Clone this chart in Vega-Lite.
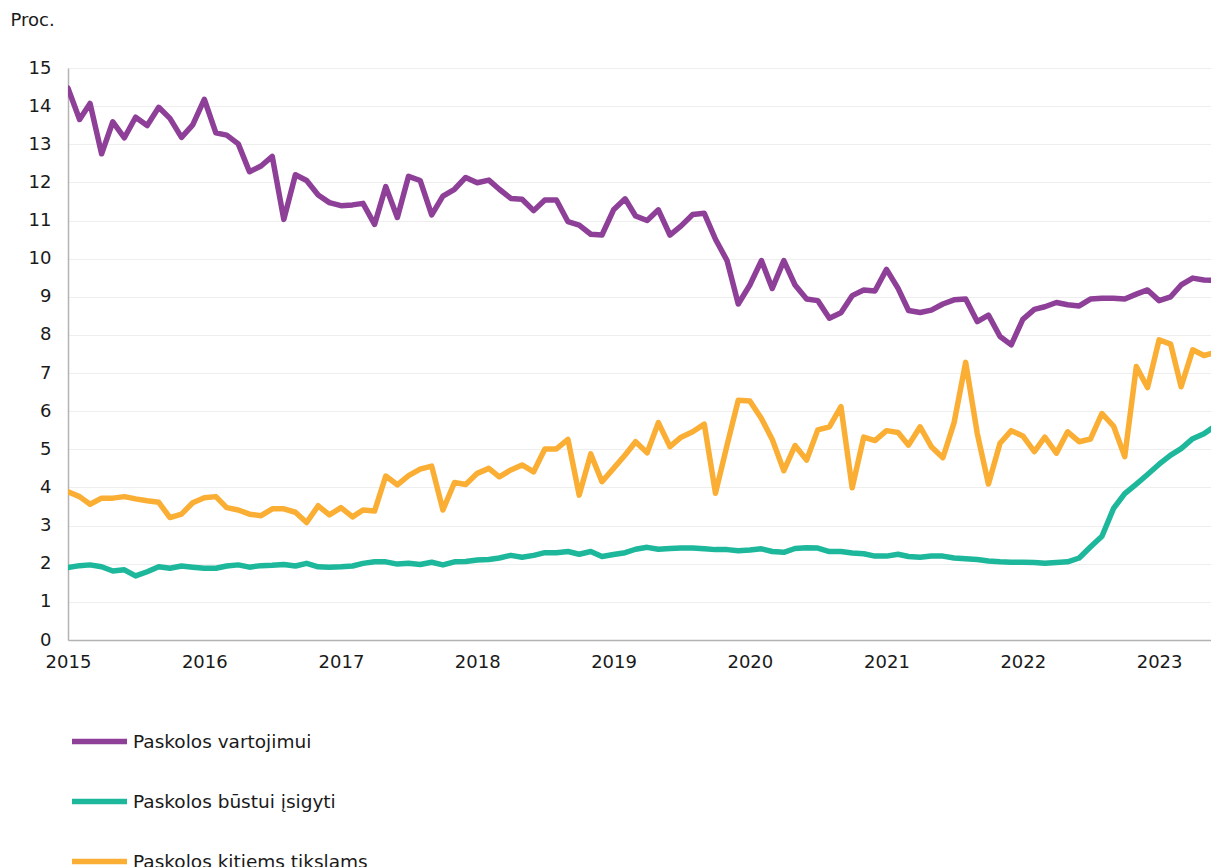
{
  "$schema": "https://vega.github.io/schema/vega-lite/v6.json",
  "width": 1143,
  "height": 572,
  "autosize": {"type": "none"},
  "padding": {"left": 68, "top": 68, "right": 0, "bottom": 227},
  "background": "white",
  "config": {"font": "DejaVu Sans", "view": {"stroke": null}},
  "data": {"values": [
    {"d":"2015-01-01","s":"Paskolos vartojimui","v":14.47},{"d":"2015-02-01","s":"Paskolos vartojimui","v":13.65},{"d":"2015-03-01","s":"Paskolos vartojimui","v":14.07},{"d":"2015-04-01","s":"Paskolos vartojimui","v":12.75},{"d":"2015-05-01","s":"Paskolos vartojimui","v":13.59},{"d":"2015-06-01","s":"Paskolos vartojimui","v":13.17},{"d":"2015-07-01","s":"Paskolos vartojimui","v":13.71},{"d":"2015-08-01","s":"Paskolos vartojimui","v":13.49},{"d":"2015-09-01","s":"Paskolos vartojimui","v":13.97},{"d":"2015-10-01","s":"Paskolos vartojimui","v":13.68},{"d":"2015-11-01","s":"Paskolos vartojimui","v":13.18},{"d":"2015-12-01","s":"Paskolos vartojimui","v":13.51},
    {"d":"2016-01-01","s":"Paskolos vartojimui","v":14.18},{"d":"2016-02-01","s":"Paskolos vartojimui","v":13.30},{"d":"2016-03-01","s":"Paskolos vartojimui","v":13.24},{"d":"2016-04-01","s":"Paskolos vartojimui","v":13.01},{"d":"2016-05-01","s":"Paskolos vartojimui","v":12.28},{"d":"2016-06-01","s":"Paskolos vartojimui","v":12.43},{"d":"2016-07-01","s":"Paskolos vartojimui","v":12.68},{"d":"2016-08-01","s":"Paskolos vartojimui","v":11.03},{"d":"2016-09-01","s":"Paskolos vartojimui","v":12.20},{"d":"2016-10-01","s":"Paskolos vartojimui","v":12.05},{"d":"2016-11-01","s":"Paskolos vartojimui","v":11.67},{"d":"2016-12-01","s":"Paskolos vartojimui","v":11.47},
    {"d":"2017-01-01","s":"Paskolos vartojimui","v":11.39},{"d":"2017-02-01","s":"Paskolos vartojimui","v":11.41},{"d":"2017-03-01","s":"Paskolos vartojimui","v":11.45},{"d":"2017-04-01","s":"Paskolos vartojimui","v":10.90},{"d":"2017-05-01","s":"Paskolos vartojimui","v":11.89},{"d":"2017-06-01","s":"Paskolos vartojimui","v":11.08},{"d":"2017-07-01","s":"Paskolos vartojimui","v":12.16},{"d":"2017-08-01","s":"Paskolos vartojimui","v":12.05},{"d":"2017-09-01","s":"Paskolos vartojimui","v":11.15},{"d":"2017-10-01","s":"Paskolos vartojimui","v":11.64},{"d":"2017-11-01","s":"Paskolos vartojimui","v":11.82},{"d":"2017-12-01","s":"Paskolos vartojimui","v":12.13},
    {"d":"2018-01-01","s":"Paskolos vartojimui","v":11.99},{"d":"2018-02-01","s":"Paskolos vartojimui","v":12.06},{"d":"2018-03-01","s":"Paskolos vartojimui","v":11.82},{"d":"2018-04-01","s":"Paskolos vartojimui","v":11.58},{"d":"2018-05-01","s":"Paskolos vartojimui","v":11.56},{"d":"2018-06-01","s":"Paskolos vartojimui","v":11.26},{"d":"2018-07-01","s":"Paskolos vartojimui","v":11.54},{"d":"2018-08-01","s":"Paskolos vartojimui","v":11.54},{"d":"2018-09-01","s":"Paskolos vartojimui","v":10.97},{"d":"2018-10-01","s":"Paskolos vartojimui","v":10.88},{"d":"2018-11-01","s":"Paskolos vartojimui","v":10.64},{"d":"2018-12-01","s":"Paskolos vartojimui","v":10.62},
    {"d":"2019-01-01","s":"Paskolos vartojimui","v":11.28},{"d":"2019-02-01","s":"Paskolos vartojimui","v":11.57},{"d":"2019-03-01","s":"Paskolos vartojimui","v":11.12},{"d":"2019-04-01","s":"Paskolos vartojimui","v":11.00},{"d":"2019-05-01","s":"Paskolos vartojimui","v":11.28},{"d":"2019-06-01","s":"Paskolos vartojimui","v":10.62},{"d":"2019-07-01","s":"Paskolos vartojimui","v":10.86},{"d":"2019-08-01","s":"Paskolos vartojimui","v":11.16},{"d":"2019-09-01","s":"Paskolos vartojimui","v":11.19},{"d":"2019-10-01","s":"Paskolos vartojimui","v":10.51},{"d":"2019-11-01","s":"Paskolos vartojimui","v":9.95},{"d":"2019-12-01","s":"Paskolos vartojimui","v":8.81},
    {"d":"2020-01-01","s":"Paskolos vartojimui","v":9.31},{"d":"2020-02-01","s":"Paskolos vartojimui","v":9.95},{"d":"2020-03-01","s":"Paskolos vartojimui","v":9.22},{"d":"2020-04-01","s":"Paskolos vartojimui","v":9.95},{"d":"2020-05-01","s":"Paskolos vartojimui","v":9.31},{"d":"2020-06-01","s":"Paskolos vartojimui","v":8.94},{"d":"2020-07-01","s":"Paskolos vartojimui","v":8.90},{"d":"2020-08-01","s":"Paskolos vartojimui","v":8.44},{"d":"2020-09-01","s":"Paskolos vartojimui","v":8.58},{"d":"2020-10-01","s":"Paskolos vartojimui","v":9.03},{"d":"2020-11-01","s":"Paskolos vartojimui","v":9.18},{"d":"2020-12-01","s":"Paskolos vartojimui","v":9.15},
    {"d":"2021-01-01","s":"Paskolos vartojimui","v":9.72},{"d":"2021-02-01","s":"Paskolos vartojimui","v":9.22},{"d":"2021-03-01","s":"Paskolos vartojimui","v":8.64},{"d":"2021-04-01","s":"Paskolos vartojimui","v":8.59},{"d":"2021-05-01","s":"Paskolos vartojimui","v":8.65},{"d":"2021-06-01","s":"Paskolos vartojimui","v":8.81},{"d":"2021-07-01","s":"Paskolos vartojimui","v":8.92},{"d":"2021-08-01","s":"Paskolos vartojimui","v":8.94},{"d":"2021-09-01","s":"Paskolos vartojimui","v":8.35},{"d":"2021-10-01","s":"Paskolos vartojimui","v":8.52},{"d":"2021-11-01","s":"Paskolos vartojimui","v":7.96},{"d":"2021-12-01","s":"Paskolos vartojimui","v":7.74},
    {"d":"2022-01-01","s":"Paskolos vartojimui","v":8.41},{"d":"2022-02-01","s":"Paskolos vartojimui","v":8.67},{"d":"2022-03-01","s":"Paskolos vartojimui","v":8.74},{"d":"2022-04-01","s":"Paskolos vartojimui","v":8.85},{"d":"2022-05-01","s":"Paskolos vartojimui","v":8.79},{"d":"2022-06-01","s":"Paskolos vartojimui","v":8.76},{"d":"2022-07-01","s":"Paskolos vartojimui","v":8.94},{"d":"2022-08-01","s":"Paskolos vartojimui","v":8.96},{"d":"2022-09-01","s":"Paskolos vartojimui","v":8.96},{"d":"2022-10-01","s":"Paskolos vartojimui","v":8.94},{"d":"2022-11-01","s":"Paskolos vartojimui","v":9.07},{"d":"2022-12-01","s":"Paskolos vartojimui","v":9.18},
    {"d":"2023-01-01","s":"Paskolos vartojimui","v":8.90},{"d":"2023-02-01","s":"Paskolos vartojimui","v":9.00},{"d":"2023-03-01","s":"Paskolos vartojimui","v":9.31},{"d":"2023-04-01","s":"Paskolos vartojimui","v":9.49},{"d":"2023-05-01","s":"Paskolos vartojimui","v":9.44},{"d":"2023-06-01","s":"Paskolos vartojimui","v":9.43},

    {"d":"2015-01-01","s":"Paskolos būstui įsigyti","v":1.90},{"d":"2015-02-01","s":"Paskolos būstui įsigyti","v":1.95},{"d":"2015-03-01","s":"Paskolos būstui įsigyti","v":1.97},{"d":"2015-04-01","s":"Paskolos būstui įsigyti","v":1.92},{"d":"2015-05-01","s":"Paskolos būstui įsigyti","v":1.81},{"d":"2015-06-01","s":"Paskolos būstui įsigyti","v":1.84},{"d":"2015-07-01","s":"Paskolos būstui įsigyti","v":1.68},{"d":"2015-08-01","s":"Paskolos būstui įsigyti","v":1.79},{"d":"2015-09-01","s":"Paskolos būstui įsigyti","v":1.92},{"d":"2015-10-01","s":"Paskolos būstui įsigyti","v":1.88},{"d":"2015-11-01","s":"Paskolos būstui įsigyti","v":1.94},{"d":"2015-12-01","s":"Paskolos būstui įsigyti","v":1.91},
    {"d":"2016-01-01","s":"Paskolos būstui įsigyti","v":1.88},{"d":"2016-02-01","s":"Paskolos būstui įsigyti","v":1.88},{"d":"2016-03-01","s":"Paskolos būstui įsigyti","v":1.94},{"d":"2016-04-01","s":"Paskolos būstui įsigyti","v":1.97},{"d":"2016-05-01","s":"Paskolos būstui įsigyti","v":1.91},{"d":"2016-06-01","s":"Paskolos būstui įsigyti","v":1.95},{"d":"2016-07-01","s":"Paskolos būstui įsigyti","v":1.96},{"d":"2016-08-01","s":"Paskolos būstui įsigyti","v":1.98},{"d":"2016-09-01","s":"Paskolos būstui įsigyti","v":1.94},{"d":"2016-10-01","s":"Paskolos būstui įsigyti","v":2.01},{"d":"2016-11-01","s":"Paskolos būstui įsigyti","v":1.92},{"d":"2016-12-01","s":"Paskolos būstui įsigyti","v":1.91},
    {"d":"2017-01-01","s":"Paskolos būstui įsigyti","v":1.92},{"d":"2017-02-01","s":"Paskolos būstui įsigyti","v":1.94},{"d":"2017-03-01","s":"Paskolos būstui įsigyti","v":2.01},{"d":"2017-04-01","s":"Paskolos būstui įsigyti","v":2.05},{"d":"2017-05-01","s":"Paskolos būstui įsigyti","v":2.05},{"d":"2017-06-01","s":"Paskolos būstui įsigyti","v":1.99},{"d":"2017-07-01","s":"Paskolos būstui įsigyti","v":2.01},{"d":"2017-08-01","s":"Paskolos būstui įsigyti","v":1.98},{"d":"2017-09-01","s":"Paskolos būstui įsigyti","v":2.04},{"d":"2017-10-01","s":"Paskolos būstui įsigyti","v":1.97},{"d":"2017-11-01","s":"Paskolos būstui įsigyti","v":2.05},{"d":"2017-12-01","s":"Paskolos būstui įsigyti","v":2.06},
    {"d":"2018-01-01","s":"Paskolos būstui įsigyti","v":2.10},{"d":"2018-02-01","s":"Paskolos būstui įsigyti","v":2.11},{"d":"2018-03-01","s":"Paskolos būstui įsigyti","v":2.15},{"d":"2018-04-01","s":"Paskolos būstui įsigyti","v":2.22},{"d":"2018-05-01","s":"Paskolos būstui įsigyti","v":2.17},{"d":"2018-06-01","s":"Paskolos būstui įsigyti","v":2.22},{"d":"2018-07-01","s":"Paskolos būstui įsigyti","v":2.29},{"d":"2018-08-01","s":"Paskolos būstui įsigyti","v":2.29},{"d":"2018-09-01","s":"Paskolos būstui įsigyti","v":2.32},{"d":"2018-10-01","s":"Paskolos būstui įsigyti","v":2.25},{"d":"2018-11-01","s":"Paskolos būstui įsigyti","v":2.32},{"d":"2018-12-01","s":"Paskolos būstui įsigyti","v":2.19},
    {"d":"2019-01-01","s":"Paskolos būstui įsigyti","v":2.24},{"d":"2019-02-01","s":"Paskolos būstui įsigyti","v":2.29},{"d":"2019-03-01","s":"Paskolos būstui įsigyti","v":2.38},{"d":"2019-04-01","s":"Paskolos būstui įsigyti","v":2.43},{"d":"2019-05-01","s":"Paskolos būstui įsigyti","v":2.38},{"d":"2019-06-01","s":"Paskolos būstui įsigyti","v":2.40},{"d":"2019-07-01","s":"Paskolos būstui įsigyti","v":2.41},{"d":"2019-08-01","s":"Paskolos būstui įsigyti","v":2.41},{"d":"2019-09-01","s":"Paskolos būstui įsigyti","v":2.39},{"d":"2019-10-01","s":"Paskolos būstui įsigyti","v":2.37},{"d":"2019-11-01","s":"Paskolos būstui įsigyti","v":2.37},{"d":"2019-12-01","s":"Paskolos būstui įsigyti","v":2.34},
    {"d":"2020-01-01","s":"Paskolos būstui įsigyti","v":2.36},{"d":"2020-02-01","s":"Paskolos būstui įsigyti","v":2.39},{"d":"2020-03-01","s":"Paskolos būstui įsigyti","v":2.32},{"d":"2020-04-01","s":"Paskolos būstui įsigyti","v":2.30},{"d":"2020-05-01","s":"Paskolos būstui įsigyti","v":2.40},{"d":"2020-06-01","s":"Paskolos būstui įsigyti","v":2.42},{"d":"2020-07-01","s":"Paskolos būstui įsigyti","v":2.41},{"d":"2020-08-01","s":"Paskolos būstui įsigyti","v":2.32},{"d":"2020-09-01","s":"Paskolos būstui įsigyti","v":2.32},{"d":"2020-10-01","s":"Paskolos būstui įsigyti","v":2.28},{"d":"2020-11-01","s":"Paskolos būstui įsigyti","v":2.26},{"d":"2020-12-01","s":"Paskolos būstui įsigyti","v":2.20},
    {"d":"2021-01-01","s":"Paskolos būstui įsigyti","v":2.20},{"d":"2021-02-01","s":"Paskolos būstui įsigyti","v":2.25},{"d":"2021-03-01","s":"Paskolos būstui įsigyti","v":2.19},{"d":"2021-04-01","s":"Paskolos būstui įsigyti","v":2.17},{"d":"2021-05-01","s":"Paskolos būstui įsigyti","v":2.20},{"d":"2021-06-01","s":"Paskolos būstui įsigyti","v":2.20},{"d":"2021-07-01","s":"Paskolos būstui įsigyti","v":2.15},{"d":"2021-08-01","s":"Paskolos būstui įsigyti","v":2.13},{"d":"2021-09-01","s":"Paskolos būstui įsigyti","v":2.11},{"d":"2021-10-01","s":"Paskolos būstui įsigyti","v":2.07},{"d":"2021-11-01","s":"Paskolos būstui įsigyti","v":2.05},{"d":"2021-12-01","s":"Paskolos būstui įsigyti","v":2.04},
    {"d":"2022-01-01","s":"Paskolos būstui įsigyti","v":2.04},{"d":"2022-02-01","s":"Paskolos būstui įsigyti","v":2.03},{"d":"2022-03-01","s":"Paskolos būstui įsigyti","v":2.01},{"d":"2022-04-01","s":"Paskolos būstui įsigyti","v":2.03},{"d":"2022-05-01","s":"Paskolos būstui įsigyti","v":2.05},{"d":"2022-06-01","s":"Paskolos būstui įsigyti","v":2.15},{"d":"2022-07-01","s":"Paskolos būstui įsigyti","v":2.44},{"d":"2022-08-01","s":"Paskolos būstui įsigyti","v":2.72},{"d":"2022-09-01","s":"Paskolos būstui įsigyti","v":3.45},{"d":"2022-10-01","s":"Paskolos būstui įsigyti","v":3.84},{"d":"2022-11-01","s":"Paskolos būstui įsigyti","v":4.09},{"d":"2022-12-01","s":"Paskolos būstui įsigyti","v":4.34},
    {"d":"2023-01-01","s":"Paskolos būstui įsigyti","v":4.61},{"d":"2023-02-01","s":"Paskolos būstui įsigyti","v":4.85},{"d":"2023-03-01","s":"Paskolos būstui įsigyti","v":5.02},{"d":"2023-04-01","s":"Paskolos būstui įsigyti","v":5.28},{"d":"2023-05-01","s":"Paskolos būstui įsigyti","v":5.41},{"d":"2023-06-01","s":"Paskolos būstui įsigyti","v":5.62},

    {"d":"2015-01-01","s":"Paskolos kitiems tikslams","v":3.89},{"d":"2015-02-01","s":"Paskolos kitiems tikslams","v":3.76},{"d":"2015-03-01","s":"Paskolos kitiems tikslams","v":3.56},{"d":"2015-04-01","s":"Paskolos kitiems tikslams","v":3.72},{"d":"2015-05-01","s":"Paskolos kitiems tikslams","v":3.72},{"d":"2015-06-01","s":"Paskolos kitiems tikslams","v":3.76},{"d":"2015-07-01","s":"Paskolos kitiems tikslams","v":3.70},{"d":"2015-08-01","s":"Paskolos kitiems tikslams","v":3.65},{"d":"2015-09-01","s":"Paskolos kitiems tikslams","v":3.61},{"d":"2015-10-01","s":"Paskolos kitiems tikslams","v":3.21},{"d":"2015-11-01","s":"Paskolos kitiems tikslams","v":3.30},{"d":"2015-12-01","s":"Paskolos kitiems tikslams","v":3.60},
    {"d":"2016-01-01","s":"Paskolos kitiems tikslams","v":3.73},{"d":"2016-02-01","s":"Paskolos kitiems tikslams","v":3.76},{"d":"2016-03-01","s":"Paskolos kitiems tikslams","v":3.47},{"d":"2016-04-01","s":"Paskolos kitiems tikslams","v":3.41},{"d":"2016-05-01","s":"Paskolos kitiems tikslams","v":3.30},{"d":"2016-06-01","s":"Paskolos kitiems tikslams","v":3.26},{"d":"2016-07-01","s":"Paskolos kitiems tikslams","v":3.44},{"d":"2016-08-01","s":"Paskolos kitiems tikslams","v":3.44},{"d":"2016-09-01","s":"Paskolos kitiems tikslams","v":3.35},{"d":"2016-10-01","s":"Paskolos kitiems tikslams","v":3.08},{"d":"2016-11-01","s":"Paskolos kitiems tikslams","v":3.52},{"d":"2016-12-01","s":"Paskolos kitiems tikslams","v":3.28},
    {"d":"2017-01-01","s":"Paskolos kitiems tikslams","v":3.47},{"d":"2017-02-01","s":"Paskolos kitiems tikslams","v":3.23},{"d":"2017-03-01","s":"Paskolos kitiems tikslams","v":3.41},{"d":"2017-04-01","s":"Paskolos kitiems tikslams","v":3.38},{"d":"2017-05-01","s":"Paskolos kitiems tikslams","v":4.30},{"d":"2017-06-01","s":"Paskolos kitiems tikslams","v":4.07},{"d":"2017-07-01","s":"Paskolos kitiems tikslams","v":4.31},{"d":"2017-08-01","s":"Paskolos kitiems tikslams","v":4.48},{"d":"2017-09-01","s":"Paskolos kitiems tikslams","v":4.56},{"d":"2017-10-01","s":"Paskolos kitiems tikslams","v":3.41},{"d":"2017-11-01","s":"Paskolos kitiems tikslams","v":4.13},{"d":"2017-12-01","s":"Paskolos kitiems tikslams","v":4.08},
    {"d":"2018-01-01","s":"Paskolos kitiems tikslams","v":4.37},{"d":"2018-02-01","s":"Paskolos kitiems tikslams","v":4.50},{"d":"2018-03-01","s":"Paskolos kitiems tikslams","v":4.28},{"d":"2018-04-01","s":"Paskolos kitiems tikslams","v":4.46},{"d":"2018-05-01","s":"Paskolos kitiems tikslams","v":4.59},{"d":"2018-06-01","s":"Paskolos kitiems tikslams","v":4.41},{"d":"2018-07-01","s":"Paskolos kitiems tikslams","v":5.01},{"d":"2018-08-01","s":"Paskolos kitiems tikslams","v":5.01},{"d":"2018-09-01","s":"Paskolos kitiems tikslams","v":5.26},{"d":"2018-10-01","s":"Paskolos kitiems tikslams","v":3.80},{"d":"2018-11-01","s":"Paskolos kitiems tikslams","v":4.88},{"d":"2018-12-01","s":"Paskolos kitiems tikslams","v":4.15},
    {"d":"2019-01-01","s":"Paskolos kitiems tikslams","v":4.50},{"d":"2019-02-01","s":"Paskolos kitiems tikslams","v":4.85},{"d":"2019-03-01","s":"Paskolos kitiems tikslams","v":5.20},{"d":"2019-04-01","s":"Paskolos kitiems tikslams","v":4.91},{"d":"2019-05-01","s":"Paskolos kitiems tikslams","v":5.70},{"d":"2019-06-01","s":"Paskolos kitiems tikslams","v":5.07},{"d":"2019-07-01","s":"Paskolos kitiems tikslams","v":5.32},{"d":"2019-08-01","s":"Paskolos kitiems tikslams","v":5.46},{"d":"2019-09-01","s":"Paskolos kitiems tikslams","v":5.66},{"d":"2019-10-01","s":"Paskolos kitiems tikslams","v":3.85},{"d":"2019-11-01","s":"Paskolos kitiems tikslams","v":5.11},{"d":"2019-12-01","s":"Paskolos kitiems tikslams","v":6.29},
    {"d":"2020-01-01","s":"Paskolos kitiems tikslams","v":6.27},{"d":"2020-02-01","s":"Paskolos kitiems tikslams","v":5.81},{"d":"2020-03-01","s":"Paskolos kitiems tikslams","v":5.26},{"d":"2020-04-01","s":"Paskolos kitiems tikslams","v":4.44},{"d":"2020-05-01","s":"Paskolos kitiems tikslams","v":5.10},{"d":"2020-06-01","s":"Paskolos kitiems tikslams","v":4.72},{"d":"2020-07-01","s":"Paskolos kitiems tikslams","v":5.51},{"d":"2020-08-01","s":"Paskolos kitiems tikslams","v":5.59},{"d":"2020-09-01","s":"Paskolos kitiems tikslams","v":6.12},{"d":"2020-10-01","s":"Paskolos kitiems tikslams","v":3.99},{"d":"2020-11-01","s":"Paskolos kitiems tikslams","v":5.32},{"d":"2020-12-01","s":"Paskolos kitiems tikslams","v":5.23},
    {"d":"2021-01-01","s":"Paskolos kitiems tikslams","v":5.49},{"d":"2021-02-01","s":"Paskolos kitiems tikslams","v":5.44},{"d":"2021-03-01","s":"Paskolos kitiems tikslams","v":5.11},{"d":"2021-04-01","s":"Paskolos kitiems tikslams","v":5.59},{"d":"2021-05-01","s":"Paskolos kitiems tikslams","v":5.07},{"d":"2021-06-01","s":"Paskolos kitiems tikslams","v":4.78},{"d":"2021-07-01","s":"Paskolos kitiems tikslams","v":5.70},{"d":"2021-08-01","s":"Paskolos kitiems tikslams","v":7.28},{"d":"2021-09-01","s":"Paskolos kitiems tikslams","v":5.42},{"d":"2021-10-01","s":"Paskolos kitiems tikslams","v":4.09},{"d":"2021-11-01","s":"Paskolos kitiems tikslams","v":5.16},{"d":"2021-12-01","s":"Paskolos kitiems tikslams","v":5.49},
    {"d":"2022-01-01","s":"Paskolos kitiems tikslams","v":5.35},{"d":"2022-02-01","s":"Paskolos kitiems tikslams","v":4.94},{"d":"2022-03-01","s":"Paskolos kitiems tikslams","v":5.32},{"d":"2022-04-01","s":"Paskolos kitiems tikslams","v":4.90},{"d":"2022-05-01","s":"Paskolos kitiems tikslams","v":5.46},{"d":"2022-06-01","s":"Paskolos kitiems tikslams","v":5.20},{"d":"2022-07-01","s":"Paskolos kitiems tikslams","v":5.27},{"d":"2022-08-01","s":"Paskolos kitiems tikslams","v":5.94},{"d":"2022-09-01","s":"Paskolos kitiems tikslams","v":5.61},{"d":"2022-10-01","s":"Paskolos kitiems tikslams","v":4.81},{"d":"2022-11-01","s":"Paskolos kitiems tikslams","v":7.17},{"d":"2022-12-01","s":"Paskolos kitiems tikslams","v":6.62},
    {"d":"2023-01-01","s":"Paskolos kitiems tikslams","v":7.87},{"d":"2023-02-01","s":"Paskolos kitiems tikslams","v":7.76},{"d":"2023-03-01","s":"Paskolos kitiems tikslams","v":6.64},{"d":"2023-04-01","s":"Paskolos kitiems tikslams","v":7.61},{"d":"2023-05-01","s":"Paskolos kitiems tikslams","v":7.46},{"d":"2023-06-01","s":"Paskolos kitiems tikslams","v":7.54}
  ]},
  "mark": {"type": "line", "strokeWidth": 5.5, "strokeJoin": "round", "strokeCap": "round", "clip": true},
  "encoding": {
    "x": {
      "field": "d", "type": "temporal",
      "scale": {"type": "utc", "domain": [{"year": 2015, "month": 1, "date": 1, "utc": true}, {"year": 2023, "month": 5, "date": 20, "utc": true}], "nice": false},
      "axis": {
        "title": null, "format": "%Y", "tickCount": {"interval": "year", "step": 1},
        "grid": false, "ticks": false, "domainColor": "#b3b3b3", "domainWidth": 1.5,
        "labelFontSize": 18, "labelColor": "#1a1a1a", "labelPadding": 13, "labelFlush": false
      }
    },
    "y": {
      "field": "v", "type": "quantitative",
      "scale": {"domain": [0, 15], "nice": false},
      "axis": {
        "values": [0,1,2,3,4,5,6,7,8,9,10,11,12,13,14,15],
        "title": "Proc.", "titleAngle": 0, "titleX": -58, "titleY": -48, "titleAlign": "left", "titleBaseline": "middle",
        "titleFontSize": 18, "titleFontWeight": "normal", "titleColor": "#1a1a1a",
        "grid": true, "gridColor": "#eeeeee", "gridWidth": 1, "ticks": false,
        "domainColor": "#b3b3b3", "domainWidth": 1.5,
        "labelFontSize": 18, "labelColor": "#1a1a1a", "labelPadding": 17
      }
    },
    "color": {
      "field": "s", "type": "nominal",
      "scale": {"domain": ["Paskolos vartojimui", "Paskolos būstui įsigyti", "Paskolos kitiems tikslams"], "range": ["#8E3F98", "#1DB79B", "#FBAE34"]},
      "legend": {
        "orient": "none", "legendX": 1, "legendY": 643, "direction": "vertical", "title": null,
        "symbolType": "stroke", "symbolSize": 3025, "symbolStrokeWidth": 5.5,
        "labelFontSize": 18.5, "labelColor": "#1a1a1a", "labelOffset": 3, "labelLimit": 0, "rowPadding": 18, "padding": 0
      }
    }
  }
}
